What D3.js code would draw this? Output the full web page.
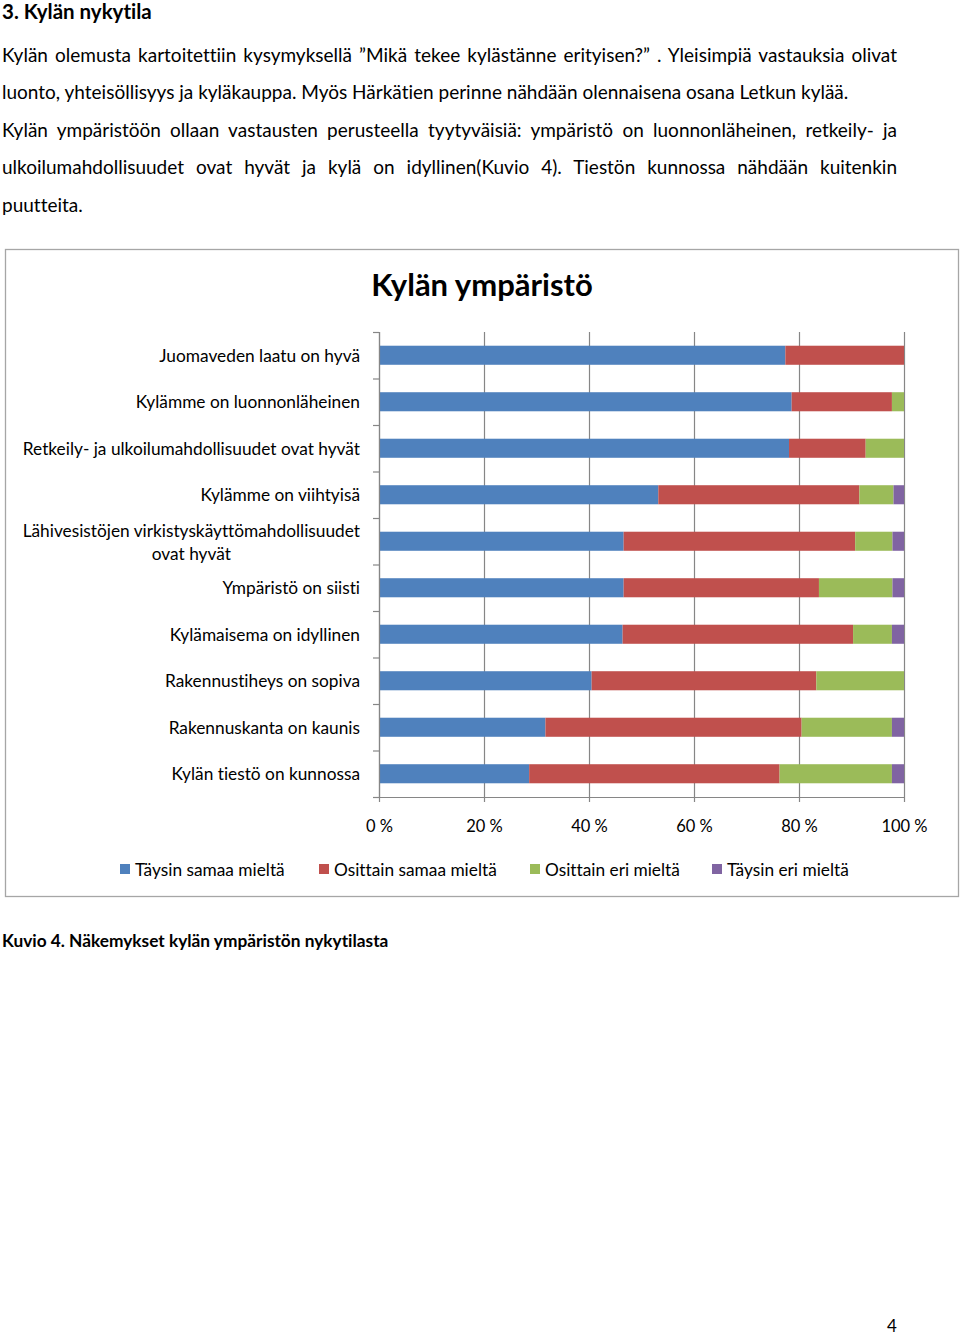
<!DOCTYPE html>
<html>
<head>
<meta charset="utf-8">
<script src="https://cdn.jsdelivr.net/npm/d3@7.9.0/dist/d3.min.js"></script>
<style>
  body { margin: 0; background: #fff; font-family: Lato, "Open Sans", sans-serif; color: #000; font-variant-ligatures: none; }
  #page { position: relative; width: 960px; height: 1335px; overflow: hidden; }
  .line { position: absolute; left: 2px; width: 895px; font-size: 19px; line-height: 22px; white-space: nowrap; }
  .just { text-align: justify; text-align-last: justify; white-space: normal; }
  .h { position: absolute; left: 2px; font-weight: bold; white-space: nowrap; line-height: 20px; }
  svg { position: absolute; left: 0; top: 0; font-variant-ligatures: none; }
</style>
</head>
<body>
<div id="page">
  <div class="h" style="top:1px;font-size:20.5px;">3. Kylän nykytila</div>
  <div class="line just" style="top:44px;">Kylän olemusta kartoitettiin kysymyksellä ”Mikä tekee kylästänne erityisen?” . Yleisimpiä vastauksia olivat</div>
  <div class="line" style="top:81px;">luonto, yhteisöllisyys ja kyläkauppa. Myös Härkätien perinne nähdään olennaisena osana Letkun kylää.</div>
  <div class="line just" style="top:119px;">Kylän ympäristöön ollaan vastausten perusteella tyytyväisiä: ympäristö on luonnonläheinen, retkeily- ja</div>
  <div class="line just" style="top:156px;">ulkoilumahdollisuudet ovat hyvät ja kylä on idyllinen(Kuvio 4). Tiestön kunnossa nähdään kuitenkin</div>
  <div class="line" style="top:194px;">puutteita.</div>
  <div class="h" style="top:931px;font-size:17.3px;">Kuvio 4. Näkemykset kylän ympäristön nykytilasta</div>
  <div class="h" style="top:1318px;left:887px;font-weight:normal;font-size:17px;line-height:16px;">4</div>
  <svg id="chart" width="960" height="1335"></svg>
</div>
<script>
// categories (top to bottom) and shares per answer, in percent
const categories = [
  "Juomaveden laatu on hyvä",
  "Kylämme on luonnonläheinen",
  "Retkeily- ja ulkoilumahdollisuudet ovat hyvät",
  "Kylämme on viihtyisä",
  "Lähivesistöjen virkistyskäyttömahdollisuudet ovat hyvät",
  "Ympäristö on siisti",
  "Kylämaisema on idyllinen",
  "Rakennustiheys on sopiva",
  "Rakennuskanta on kaunis",
  "Kylän tiestö on kunnossa"
];
const series = ["Täysin samaa mieltä", "Osittain samaa mieltä", "Osittain eri mieltä", "Täysin eri mieltä"];
const taysinSamaa   = [77.4, 78.6, 78.1, 53.2, 46.6, 46.6, 46.4, 40.5, 31.7, 28.6];
const osittainSamaa = [22.6, 19.1, 14.6, 38.3, 44.1, 37.2, 43.9, 42.8, 48.8, 47.7];
const osittainEri   = [0.0, 2.3, 7.3, 6.5, 7.1, 14.0, 7.4, 16.7, 17.2, 21.4];
const taysinEri     = [0.0, 0.0, 0.0, 2.0, 2.2, 2.2, 2.3, 0.0, 2.3, 2.3];
const xTicks = [0, 0.2, 0.4, 0.6, 0.8, 1];
const colors = ["#4F81BD", "#C0504D", "#9BBB59", "#8064A2"];

const seriesValues = [taysinSamaa, osittainSamaa, osittainEri, taysinEri];
const rows = categories.map((c, i) => {
  const r = { cat: c };
  series.forEach((s, j) => { r[s] = seriesValues[j][i]; });
  return r;
});

const svg = d3.select('#chart');
const gridColor = '#868686';

// chart frame
svg.append('rect')
  .attr('x', 5.5).attr('y', 249.5)
  .attr('width', 953).attr('height', 647)
  .attr('fill', 'none').attr('stroke', '#a6a6a6').attr('stroke-width', 1.3);

svg.append('text')
  .attr('x', 482).attr('y', 284)
  .attr('text-anchor', 'middle').attr('dominant-baseline', 'central')
  .attr('font-size', 31).attr('font-weight', 'bold')
  .text('Kylän ympäristö');

const x = d3.scaleLinear().domain([0, 1]).range([379, 904]);
const y = d3.scaleBand().domain(categories).range([332, 797])
  .paddingInner(0.59).paddingOuter(0.295);

const stack = d3.stack().keys(series).offset(d3.stackOffsetExpand);
const stacked = stack(rows);

// gridlines
svg.append('g')
  .attr('transform', 'translate(0,797)')
  .call(d3.axisBottom(x).tickValues(xTicks).tickSize(-465).tickFormat(''))
  .call(g => g.select('.domain').remove())
  .call(g => g.selectAll('line').attr('stroke', gridColor).attr('stroke-width', 1.2));

// bars
svg.append('g').selectAll('g')
  .data(stacked)
  .join('g')
  .attr('fill', (d, i) => colors[i])
  .selectAll('rect')
  .data(d => d)
  .join('rect')
  .attr('x', d => x(d[0]))
  .attr('width', d => Math.max(0, x(d[1]) - x(d[0])))
  .attr('y', d => y(d.data.cat))
  .attr('height', y.bandwidth());

// x axis
const xAxis = svg.append('g')
  .attr('transform', 'translate(0,797)')
  .call(d3.axisBottom(x).tickValues(xTicks).tickSize(5).tickSizeOuter(0)
    .tickFormat(d => Math.round(d * 100) + ' %'));
xAxis.select('.domain').attr('stroke', gridColor).attr('stroke-width', 1.2)
  .attr('d', 'M373,0.5H904');
xAxis.selectAll('line').attr('stroke', gridColor).attr('stroke-width', 1.2);
xAxis.selectAll('text').attr('font-family', 'Lato').attr('font-size', 16.5)
  .attr('fill', '#000').attr('dy', null).attr('y', 29).attr('dominant-baseline', 'central');

// y axis: line + ticks at band boundaries
const step = y.step();
const boundaries = categories.map(c => y(c) - step * y.paddingInner() / 2).concat([797]);
svg.append('line')
  .attr('x1', 379.5).attr('x2', 379.5).attr('y1', 332).attr('y2', 797)
  .attr('stroke', gridColor).attr('stroke-width', 1.2);
svg.append('g').selectAll('line')
  .data(boundaries)
  .join('line')
  .attr('x1', 373).attr('x2', 379)
  .attr('y1', d => d + 0.5).attr('y2', d => d + 0.5)
  .attr('stroke', gridColor).attr('stroke-width', 1.2);

// category labels
const wrapped = {
  "Lähivesistöjen virkistyskäyttömahdollisuudet ovat hyvät":
    ["Lähivesistöjen virkistyskäyttömahdollisuudet", "ovat hyvät"]
};
const labels = svg.append('g').attr('font-size', 17.3).attr('fill', '#000');
categories.forEach(c => {
  const cy = y(c) + y.bandwidth() / 2;
  if (wrapped[c]) {
    const t = labels.append('text').attr('text-anchor', 'middle').attr('dominant-baseline', 'central');
    const parts = wrapped[c];
    // measure first line to center the block right-aligned at 360
    t.text(parts[0]);
    const w = t.node().getComputedTextLength();
    t.text('');
    const cx = 360 - w / 2;
    parts.forEach((p, k) => {
      t.append('tspan').attr('x', cx).attr('y', cy + (k - (parts.length - 1) / 2) * 23).text(p);
    });
  } else {
    labels.append('text')
      .attr('x', 360).attr('y', cy)
      .attr('text-anchor', 'end').attr('dominant-baseline', 'central')
      .text(c);
  }
});

// legend
const legendX = [120, 319, 530, 712];
const legend = svg.append('g').selectAll('g')
  .data(series)
  .join('g')
  .attr('transform', (d, i) => `translate(${legendX[i]},869)`);
legend.append('rect').attr('x', 0).attr('y', -5).attr('width', 10).attr('height', 10)
  .attr('fill', (d, i) => colors[i]);
legend.append('text').attr('x', 15).attr('y', 0)
  .attr('dominant-baseline', 'central').attr('font-size', 17.3)
  .text(d => d);
</script>
</body>
</html>
